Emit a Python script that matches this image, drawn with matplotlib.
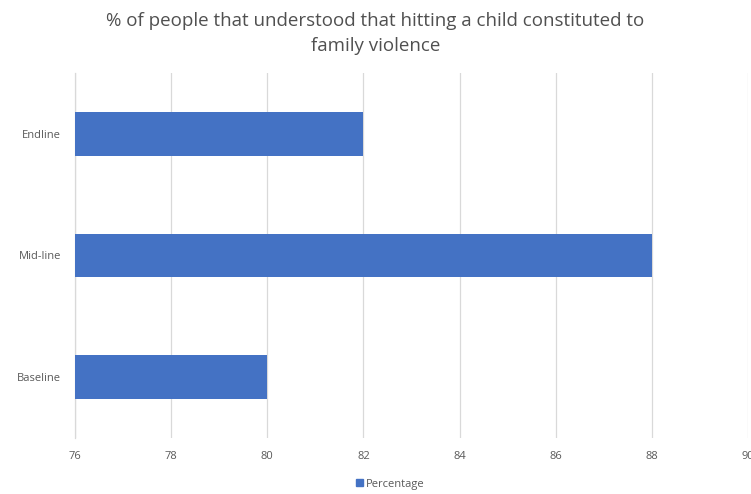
import matplotlib
matplotlib.use("Agg")
import matplotlib.pyplot as plt
from matplotlib.patches import Patch

categories = ["Baseline", "Mid-line", "Endline"]
values = [80, 88, 82]
xticks = [76, 78, 80, 82, 84, 86, 88, 90]
title = "% of people that understood that hitting a child constituted to\nfamily violence"
series_name = "Percentage"

plt.rcParams['font.family'] = ['Open Sans', 'DejaVu Sans']

fig = plt.figure(figsize=(7.51, 4.94), dpi=100)
ax = fig.add_axes([0.0999, 0.1134, 0.8960, 0.7389])

bar_color = "#4472C4"
ax.barh(range(len(categories)), values, height=0.36, color=bar_color, zorder=3)
ax.set_xlim(76, 90)
ax.set_ylim(-0.5, len(categories) - 0.5)
ax.set_xticks(xticks)
ax.set_xticklabels([str(t) for t in xticks], fontsize=8, color="#595959")
ax.set_yticks(range(len(categories)))
ax.set_yticklabels(categories, fontsize=8, color="#595959")
ax.tick_params(axis='x', length=0, pad=9.5)
ax.tick_params(axis='y', length=0, pad=10)
ax.grid(axis='x', color="#D9D9D9", linewidth=0.9, zorder=0)
for s in ["top", "right", "bottom"]:
    ax.spines[s].set_visible(False)
ax.spines["left"].set_color("#D9D9D9")
ax.spines["left"].set_linewidth(0.9)

fig.suptitle(title, fontsize=13.5, color="#505050", y=0.975, linespacing=1.45)

fig.legend(handles=[Patch(color=bar_color, label=series_name)],
           loc="center", bbox_to_anchor=(0.52, 0.02), frameon=False,
           fontsize=8, labelcolor="#595959", handlelength=0.6, handleheight=0.6,
           handletextpad=0.3)

fig.savefig("out.png", dpi=100)
